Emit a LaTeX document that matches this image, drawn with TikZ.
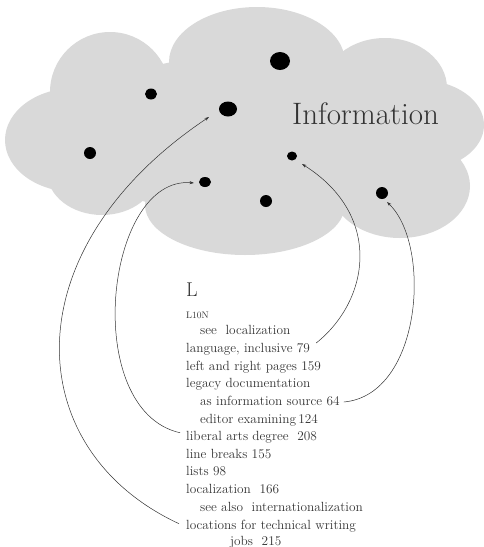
\documentclass[tikz,border=0pt]{standalone}
\usetikzlibrary{arrows.meta}
\definecolor{cloudgray}{HTML}{D9D9D9}
\definecolor{inkgray}{HTML}{333333}
\tikzset{
  entry/.style={anchor=base west, inner sep=0pt, text=inkgray,
    font=\fontsize{13.3}{15}\selectfont},
  pointer/.style={draw=inkgray, line width=0.5pt,
    -{Stealth[length=4.5pt,width=3pt]}},
}

\begin{document}
\begin{tikzpicture}[x=1pt,y=-1pt]
    \useasboundingbox (0,0) rectangle (484,547);

    % the cloud
    \begin{scope}[fill=cloudgray]
        \fill (110,92) ellipse [x radius=60, y radius=60];
        \fill (257,62) ellipse [x radius=88, y radius=55];
        \fill (385,88) ellipse [x radius=62, y radius=50];
        \fill (420,125) ellipse [x radius=64, y radius=45];
        \fill (400,186) ellipse [x radius=70, y radius=52];
        \fill (245,205) ellipse [x radius=100, y radius=50];
        \fill (102,172) ellipse [x radius=55, y radius=43];
        \fill (75,140) ellipse [x radius=70, y radius=52];
        \fill (250,135) ellipse [x radius=190, y radius=80];
    \end{scope}

    % bits of information
    \fill (280,61) ellipse [x radius=10, y radius=9];
    \fill (151,94) ellipse [x radius=6, y radius=5.5];
    \fill (228,109) ellipse [x radius=9, y radius=7.5];
    \fill (90,153) ellipse [x radius=6, y radius=6];
    \fill (292,156) ellipse [x radius=5, y radius=4.5];
    \fill (205,182) ellipse [x radius=6, y radius=5];
    \fill (266,201) ellipse [x radius=6, y radius=6];
    \fill (382,193) ellipse [x radius=6, y radius=6];

    \node[anchor=base west, inner sep=0pt, text=inkgray,
        font=\fontsize{31}{34}\selectfont] (info) at (292,124) {Information};

    % the index
    \node[entry, font=\fontsize{20}{22}\selectfont] (hdL) at (186,296) {L};
    \node[entry, font=\fontsize{9.5}{11}\selectfont] (lten) at (186,318) {L10N};
    \node[entry] (seeloc) at (200,334) {see\ \ localization};
    \node[entry] (lang) at (186,352) {language, inclusive 79};
    \node[entry] (leftright) at (186,370) {left and right pages 159};
    \node[entry] (legacy) at (186,387) {legacy documentation};
    \node[entry] (infosrc) at (200,405) {as information source 64};
    \node[entry] (editor) at (200,423) {editor examining\,124};
    \node[entry] (liberal) at (186,440) {liberal arts degree\ \ 208};
    \node[entry] (linebr) at (186,458) {line breaks 155};
    \node[entry] (lists) at (186,475) {lists 98};
    \node[entry] (localiz) at (186,493) {localization\ \ 166};
    \node[entry] (seealso) at (200,511) {see also\ \ internationalization};
    \node[entry] (locations) at (186,529) {locations for technical writing};
    \node[entry] (jobs) at (230,545) {jobs\ \ 215};

    % where the pointers land
    \coordinate (toBig) at (209,117);
    \coordinate (toLow) at (194,183);
    \coordinate (toMid) at (302,164);
    \coordinate (toRight) at (387,202);

    \draw[pointer] ([xshift=-7pt,yshift=2pt]locations.west)
        .. controls (20,450) and (10,250) .. (toBig);
    \draw[pointer] ([xshift=-6pt,yshift=4pt]liberal.west)
        .. controls (80,410) and (105,175) .. (toLow);
    \draw[pointer] ([xshift=6pt,yshift=9pt]lang.base east)
        .. controls (370,300) and (383,215) .. (toMid);
    \draw[pointer] ([xshift=4pt,yshift=3pt]infosrc.base east)
        .. controls (422,395) and (432,245) .. (toRight);
\end{tikzpicture}
\end{document}
